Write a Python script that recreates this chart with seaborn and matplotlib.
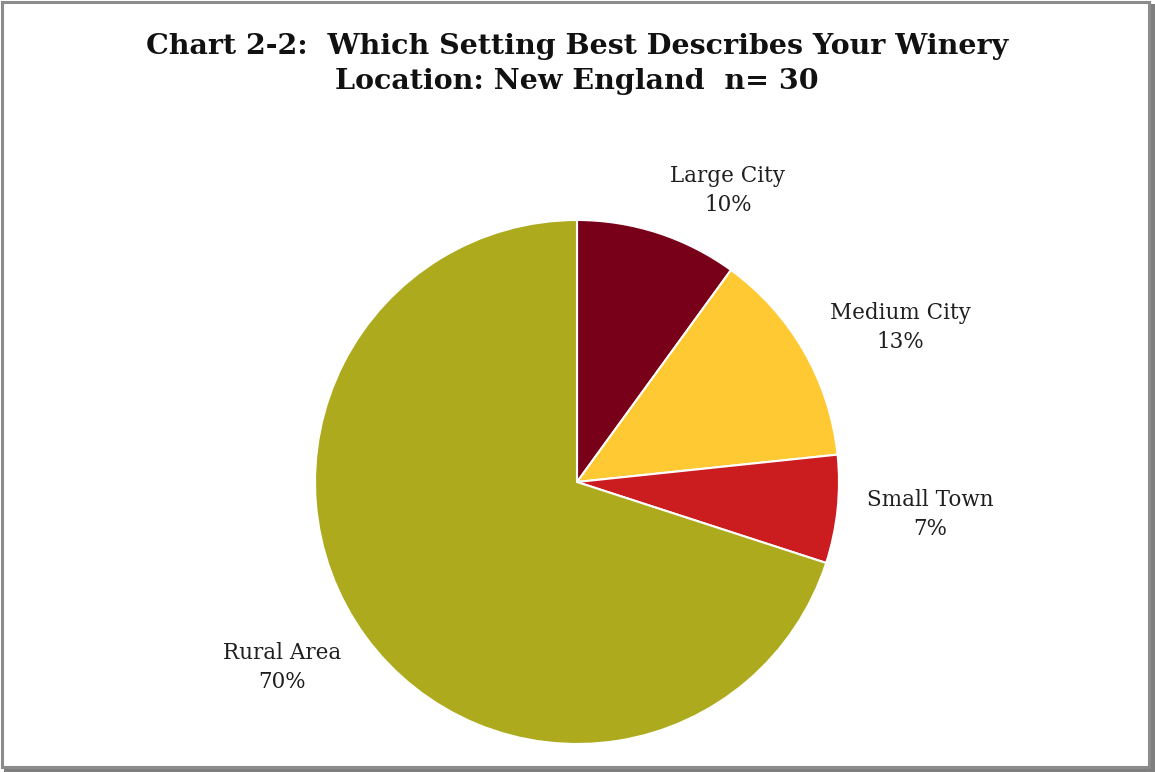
import matplotlib
matplotlib.use("Agg")
import matplotlib.pyplot as plt
import seaborn as sns
from matplotlib.patches import Rectangle

sns.set_theme(style="white")
plt.rcParams["font.family"] = ["DejaVu Serif"]

# Survey responses (n = 30)
categories = ["Large City", "Medium City", "Small Town", "Rural Area"]
counts = [3, 4, 2, 21]
pct_labels = ["10%", "13%", "7%", "70%"]
colors = ["#780019", "#FFC933", "#CB1C1F", "#ADAB1D"]

# label anchor positions in pie data units (radius = 1)
label_xy = [(0.576, 1.112), (1.233, 0.589), (1.347, -0.125), (-1.126, -0.708)]

W, H = 1155, 772
fig = plt.figure(figsize=(W / 100, H / 100), dpi=100)
fig.patch.set_facecolor("white")

# outer frame with a soft drop shadow on the right/bottom
fig.add_artist(Rectangle((4 / W, 0), 1 - 4 / W, 1 - 4 / H, transform=fig.transFigure,
                         facecolor="#7f7f7f", edgecolor="none", zorder=0))
fig.add_artist(Rectangle((1.5 / W, 5 / H), 1 - 7.5 / W, 1 - 6.5 / H, transform=fig.transFigure,
                         facecolor="white", edgecolor="#8c8c8c", linewidth=2.2, zorder=1))

cx, cy, r = 577, 482, 262
ax = fig.add_axes([(cx - r) / W, (H - cy - r) / H, 2 * r / W, 2 * r / H])
ax.set_zorder(2)
wedges, _ = ax.pie(counts, colors=colors, startangle=90, counterclock=False,
                   radius=1, wedgeprops=dict(edgecolor="white", linewidth=1.5))
ax.set_xlim(-1, 1)
ax.set_ylim(-1, 1)
ax.set_aspect("equal")
ax.axis("off")

for name, pct, (lx, ly) in zip(categories, pct_labels, label_xy):
    ax.text(lx, ly, f"{name}\n{pct}", ha="center", va="center", fontsize=15.5,
            color="#1f1f1f", linespacing=1.4, clip_on=False)

fig.text(0.4996, 1 - 64 / H,
         "Chart 2-2:  Which Setting Best Describes Your Winery\nLocation: New England  n= 30",
         ha="center", va="center", fontsize=20.5, fontweight="bold", color="#111111",
         linespacing=1.4, zorder=3)

fig.savefig("out.png", dpi=100, facecolor="white")
